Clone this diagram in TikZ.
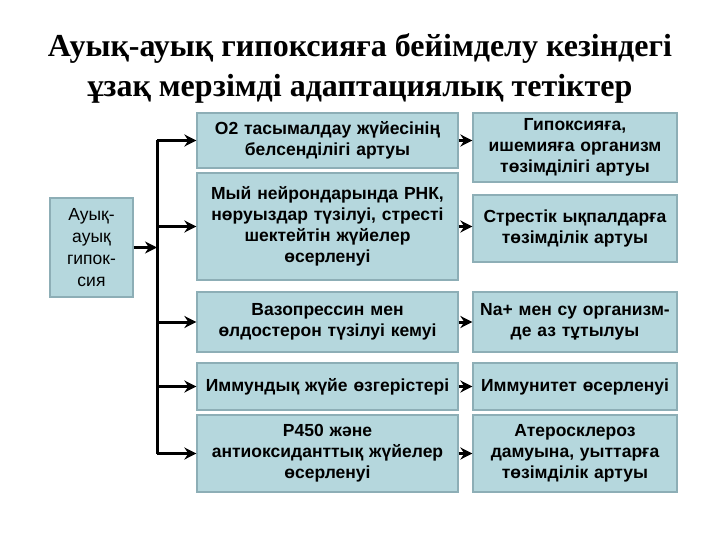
\documentclass[tikz,border=0pt]{standalone}
\usepackage{fontspec}
\setmainfont{Liberation Sans}
\newfontfamily\titlefont{Liberation Serif}
\usetikzlibrary{arrows.meta}
\definecolor{boxfill}{HTML}{B5D7DD}
\definecolor{boxline}{HTML}{8DAEB6}
\tikzset{
  bx/.style={draw=boxline, line width=1.2pt, fill=boxfill, align=center, font=\fontsize{17.5}{21}\selectfont\bfseries, inner sep=1pt},
  ar/.style={-{Stealth[length=12pt,width=12pt]}, line width=3pt}
}
\begin{document}
\begin{tikzpicture}[x=1pt,y=-1pt]
\useasboundingbox (0,0) rectangle (720,540);
\node[font=\titlefont\fontsize{32}{40}\selectfont\bfseries, align=center] (title) at (360,68) {Ауық-ауық гипоксияға бейімделу кезіндегі\\ ұзақ мерзімді адаптациялық тетіктер};
\node[bx, font=\fontsize{17.5}{22}\selectfont, minimum width=83pt, minimum height=99pt, text width=80pt] (L) at (91.5,247.5) {Ауық-\\ауық\\гипок-\\сия};
\node[bx, minimum width=261pt, minimum height=55pt, text width=258pt] (m1) at (327.5,140.5) {O2 тасымалдау жүйесінің\\белсенділігі артуы};
\node[bx, minimum width=261pt, minimum height=107pt, text width=258pt] (m2) at (327.5,226.5) {Мый нейрондарында РНК,\\нөруыздар түзілуі, стресті\\шектейтін жүйелер\\өсерленуі};
\node[bx, minimum width=261pt, minimum height=60pt, text width=258pt] (m3) at (327.5,322) {Вазопрессин мен\\өлдостерон түзілуі кемуі};
\node[bx, minimum width=261pt, minimum height=47pt, text width=258pt] (m4) at (327.5,386.5) {Иммундық жүйе өзгерістері};
\node[bx, minimum width=261pt, minimum height=77pt, text width=258pt] (m5) at (327.5,453.5) {Р450 және\\антиоксиданттық жүйелер\\өсерленуі};
\node[bx, minimum width=204pt, minimum height=69pt, text width=201pt] (r1) at (575,147.5) {Гипоксияға,\\ишемияға организм\\төзімділігі артуы};
\node[bx, minimum width=204pt, minimum height=67pt, text width=201pt] (r2) at (575,228.5) {Стрестік ықпалдарға\\төзімділік артуы};
\node[bx, minimum width=204pt, minimum height=60pt, text width=201pt] (r3) at (575,322) {Na+ мен су организм-\\де аз тұтылуы};
\node[bx, minimum width=204pt, minimum height=47pt, text width=201pt] (r4) at (575,386.5) {Иммунитет өсерленуі};
\node[bx, minimum width=204pt, minimum height=77pt, text width=201pt] (r5) at (575,453.5) {Атеросклероз\\дамуына, уыттарға\\төзімділік артуы};
\coordinate (top) at (157,140.5);
\coordinate (bot) at (157,453.5);
\draw[line width=3pt] (top) -- (bot);
\draw[ar] (L.east) -- (157,247.5);
\foreach \m in {m1,m2,m3,m4,m5} \draw[ar] (157,0 |- \m.west) -- (\m.west);
\foreach \i in {1,...,5} \draw[ar] (m\i.east) -- (r\i.west |- m\i.east);
\end{tikzpicture}
\end{document}
